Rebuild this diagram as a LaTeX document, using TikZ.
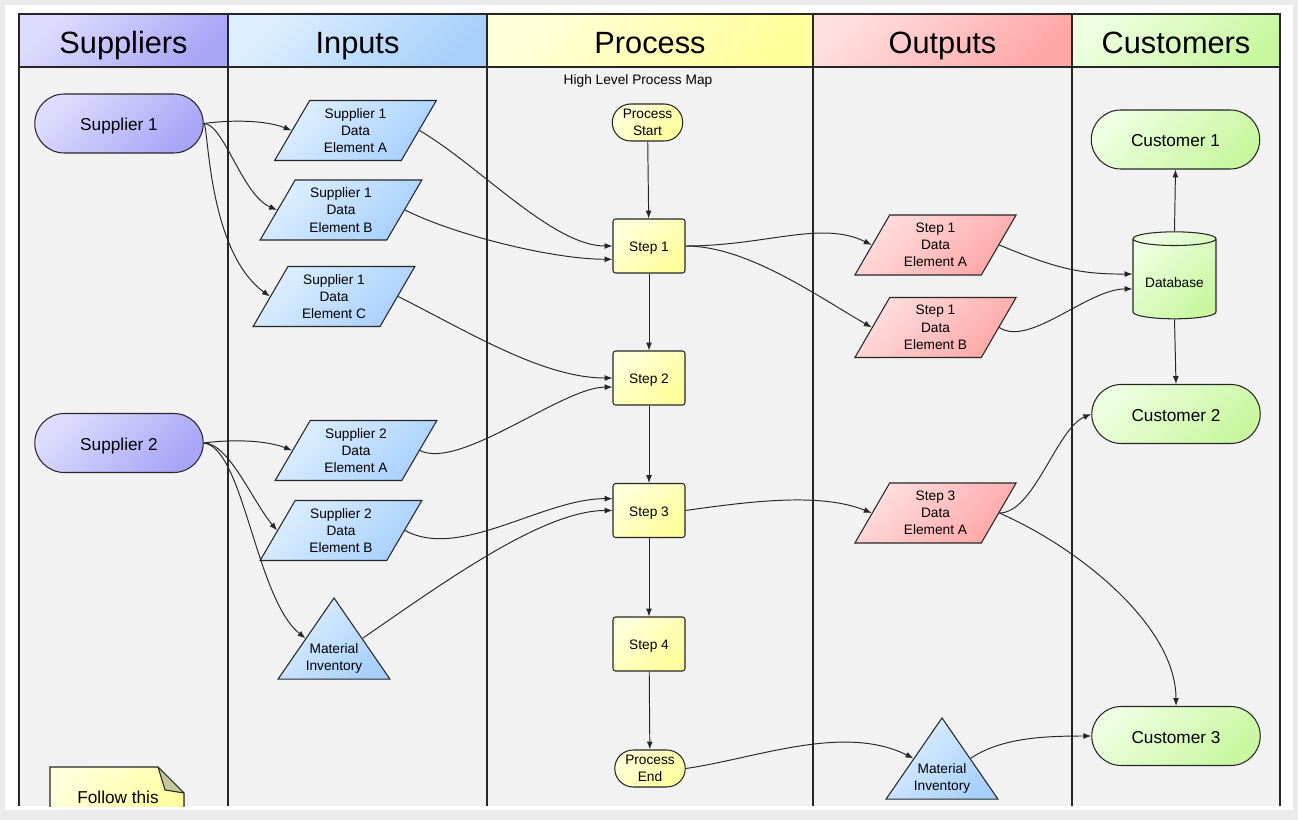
\documentclass[tikz,border=0pt]{standalone}
\usepackage{fontspec}
\setmainfont{Liberation Sans}
\usetikzlibrary{shapes.geometric,shapes.misc,arrows.meta}

\definecolor{supL}{HTML}{DEDCFE}
\definecolor{supD}{HTML}{A9A5F6}
\definecolor{inL}{HTML}{DDEFFF}
\definecolor{inD}{HTML}{A8D0FC}
\definecolor{prL}{HTML}{FFFFDA}
\definecolor{prD}{HTML}{FFFF9C}
\definecolor{outL}{HTML}{FFDEDE}
\definecolor{outD}{HTML}{FFA7A7}
\definecolor{cuL}{HTML}{EDFFE0}
\definecolor{cuD}{HTML}{C8F7A0}
\definecolor{panel}{HTML}{F2F2F2}
\definecolor{edge}{HTML}{262626}
\definecolor{fold}{HTML}{C6C69C}

\tikzset{
  grad/.style 2 args={top color=#1, bottom color=#2, shading angle=45},
  flow/.style={draw=edge, line width=0.6pt, align=center, inner sep=1pt, font=\fontsize{7.8}{9.8}\selectfont},
  lanehead/.style={draw=edge, line width=0.7pt, minimum height=1.06cm, inner sep=0pt, outer sep=0pt, text height=0.54cm, text depth=0pt, font=\fontsize{17.5}{20}\selectfont},
  endnode/.style={flow, rounded rectangle, minimum width=3.44cm, minimum height=1.18cm, text height=8.3pt, text depth=0pt, font=\fontsize{9.8}{12}\selectfont},
  datanode/.style={flow, trapezium, trapezium left angle=62, trapezium right angle=118, trapezium stretches=true, minimum width=3.24cm, minimum height=1.2cm},
  stepbox/.style={flow, grad={prL}{prD}, rounded corners=1.5pt, minimum width=1.44cm, minimum height=1.08cm, text height=6.8pt, text depth=0pt},
  termnode/.style={flow, grad={prL}{prD}, rounded rectangle, minimum width=1.48cm, minimum height=0.74cm},
  invnode/.style={flow, grad={inL}{inD}, isosceles triangle, shape border rotate=90, isosceles triangle apex angle=69, isosceles triangle stretches=true, minimum width=2.24cm, minimum height=1.62cm, text depth=4pt},
  dbnode/.style={flow, grad={cuL}{cuD}, cylinder, shape border rotate=90, aspect=0.22, minimum width=1.66cm, minimum height=1.74cm, text height=8pt, text depth=0pt},
  conn/.style={draw=edge, line width=0.55pt, -{Latex[length=4.5pt,width=3.4pt]}},
}

\begin{document}
\begin{tikzpicture}[x=0.02cm, y=-0.02cm]
\useasboundingbox (0,0) rectangle (1298,820);
\fill[gray!16] (0,0) rectangle (1298,820);
\fill[white] (5,5) rectangle (1293,810);
\fill[panel] (19,14) rectangle (1280,806);

% lane headers
\node[lanehead, grad={supL}{supD}, minimum width=4.18cm] (hsup) at (123.5,40.5) {Suppliers};
\node[lanehead, grad={inL}{inD}, minimum width=5.18cm] (hin) at (357.5,40.5) {Inputs};
\node[lanehead, grad={prL}{prD}, minimum width=6.52cm] (hpro) at (650,40.5) {Process};
\node[lanehead, grad={outL}{outD}, minimum width=5.18cm] (hout) at (942.5,40.5) {Outputs};
\node[lanehead, grad={cuL}{cuD}, minimum width=4.16cm] (hcus) at (1176,40.5) {Customers};
\foreach \lx in {19,228,487,813,1072,1280}
  \draw[edge, line width=0.7pt] (\lx,67) -- (\lx,806);

\node[font=\fontsize{7.8}{9}\selectfont] (maptitle) at (638,81) {High Level Process Map};

% suppliers
\node[endnode, grad={supL}{supD}] (sup1) at (119,123.5) {Supplier 1};
\node[endnode, grad={supL}{supD}] (sup2) at (119,443) {Supplier 2};
\begin{scope}
\clip (19,14) rectangle (1280,806);
\filldraw[draw=edge, line width=0.6pt, grad={prL}{prD}] (50,830) -- (50,767) -- (158,767) -- (184,793) -- (184,830) -- cycle;
\filldraw[draw=edge, line width=0.6pt, fill=fold, line join=round] (158,767) -- (165,790) -- (184,793) -- cycle;
\end{scope}
\node[font=\fontsize{9.8}{12}\selectfont] (note) at (118,797) {Follow this};

% inputs
\node[datanode, grad={inL}{inD}] (s1a) at (355.5,130.5) {Supplier 1\\Data\\Element A};
\node[datanode, grad={inL}{inD}] (s1b) at (341,210) {Supplier 1\\Data\\Element B};
\node[datanode, grad={inL}{inD}] (s1c) at (334,296.5) {Supplier 1\\Data\\Element C};
\node[datanode, grad={inL}{inD}] (s2a) at (356,450.5) {Supplier 2\\Data\\Element A};
\node[datanode, grad={inL}{inD}] (s2b) at (341,530.5) {Supplier 2\\Data\\Element B};
\node[invnode, anchor=apex] (minv1) at (334,597) {Material\\Inventory};

% process
\node[termnode] (pstart) at (647.5,122.5) {Process\\Start};
\node[stepbox] (step1) at (649,246) {Step 1};
\node[stepbox] (step2) at (649,378) {Step 2};
\node[stepbox] (step3) at (649,510.5) {Step 3};
\node[stepbox] (step4) at (649,644) {Step 4};
\node[termnode] (pend) at (650,768.5) {Process\\End};

% outputs
\node[datanode, grad={outL}{outD}] (o1a) at (935.5,245) {Step 1\\Data\\Element A};
\node[datanode, grad={outL}{outD}] (o1b) at (935.5,327.5) {Step 1\\Data\\Element B};
\node[datanode, grad={outL}{outD}] (o3a) at (935.5,513) {Step 3\\Data\\Element A};
\node[invnode, anchor=apex] (minv2) at (942,717) {Material\\Inventory};

% customers
\node[endnode, grad={cuL}{cuD}] (cust1) at (1175.5,139.5) {Customer 1};
\node[dbnode] (db) at (1174.5,280) {Database};
\node[endnode, grad={cuL}{cuD}] (cust2) at (1176,414) {Customer 2};
\node[endnode, grad={cuL}{cuD}] (cust3) at (1176,736) {Customer 3};

% supplier links
\draw[conn] (sup1.east) .. controls +(30,-4) and +(-25,-10) .. (s1a.west);
\draw[conn] (sup1.east) .. controls +(20,0) and +(-35,-15) .. (s1b.west);
\draw[conn] (sup1.east) .. controls +(5,0) and +(-63,-46) .. (s1c.west);
\draw[conn] (sup2.east) .. controls +(30,-4) and +(-25,-10) .. (s2a.west);
\draw[conn] (sup2.east) .. controls +(25,0) and +(-25,-30) .. (s2b.west);
\draw[conn] (sup2.east) .. controls +(40,5) and +(-50,-40) .. (minv1.left side);

% inputs to steps
\draw[conn] (s1a.east) .. controls +(60,35) and +(-60,0) .. (step1.west);
\draw[conn] (s1b.east) .. controls +(50,25) and +(-60,0) .. (step1.200);
\draw[conn] (s1c.east) .. controls +(70,35) and +(-70,0) .. (step2.west);
\draw[conn] (s2a.east) .. controls +(40,20) and +(-50,0) .. (step2.194);
\draw[conn] (s2b.east) .. controls +(55,30) and +(-70,0) .. (step3.162);
\draw[conn] (minv1.right side) .. controls +(80,-55) and +(-70,0) .. (step3.west);

% process flow
\draw[conn] (pstart) -- (step1);
\draw[conn] (step1) -- (step2);
\draw[conn] (step2) -- (step3);
\draw[conn] (step3) -- (step4);
\draw[conn] (step4) -- (pend);

% outputs
\draw[conn] (step1.east) .. controls +(80,0) and +(-50,-25) .. (o1a.west);
\draw[conn] (step1.east) .. controls +(60,0) and +(-60,-35) .. (o1b.west);
\draw[conn] (step3.east) .. controls +(70,-10) and +(-50,-20) .. (o3a.west);
\draw[conn] (pend.east) .. controls +(70,-10) and +(-70,-35) .. (minv2.left side);

% customers
\draw[conn] (o1a.east) .. controls +(60,25) and +(-50,0) .. (db.172);
\draw[conn] (o1b.east) .. controls +(30,20) and +(-45,0) .. (db.192);
\draw[conn] (db.north) -- (cust1.south);
\draw[conn] (db.south) -- (cust2.north);
\draw[conn] (o3a.east) .. controls +(35,0) and +(-35,15) .. (cust2.west);
\draw[conn] (o3a.east) .. controls +(80,35) and +(0,-80) .. (cust3.north);
\draw[conn] (minv2.right side) .. controls +(30,-20) and +(-50,0) .. (cust3.west);
\end{tikzpicture}
\end{document}
